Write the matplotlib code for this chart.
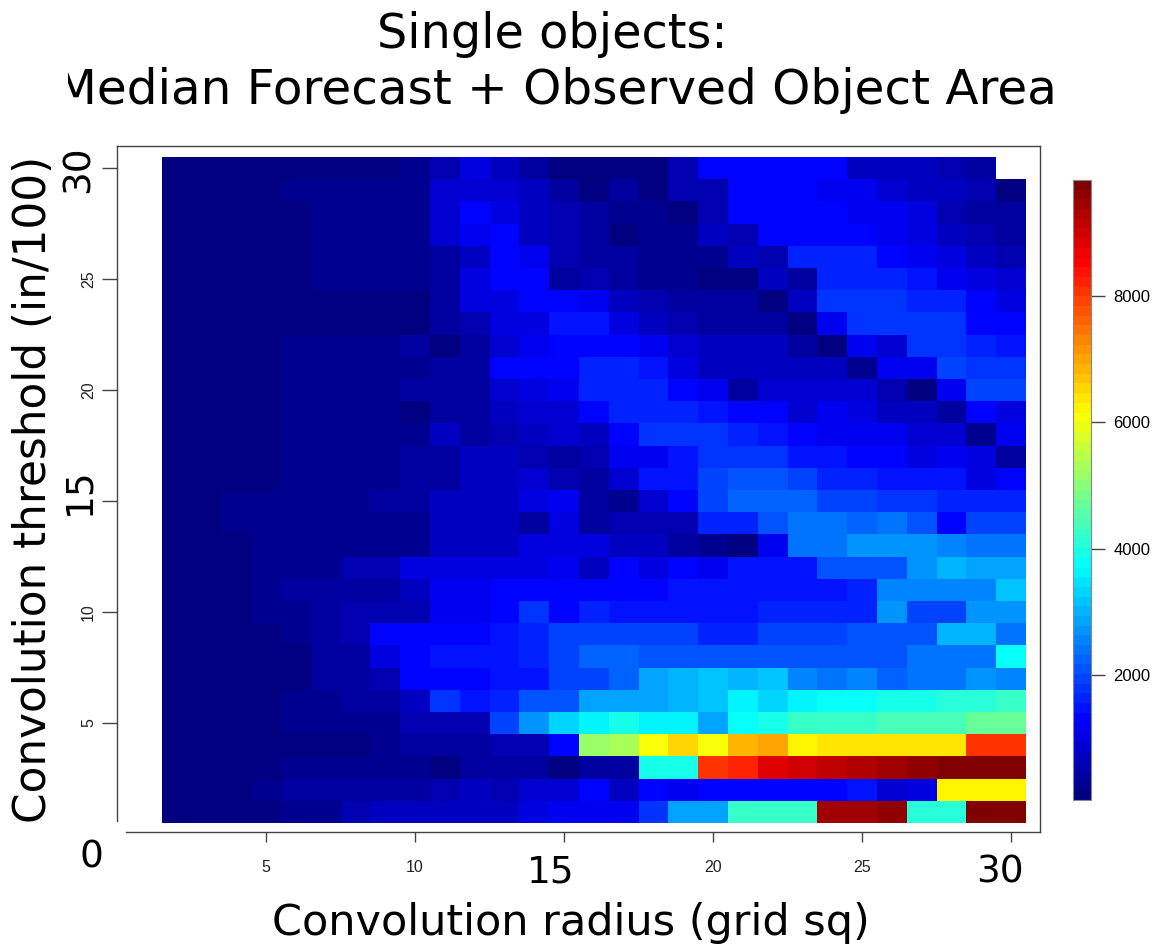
import numpy as np
import matplotlib
matplotlib.use("Agg")
import matplotlib.pyplot as plt
from matplotlib.colors import LinearSegmentedColormap
from matplotlib.transforms import Bbox

W, H = 1157, 946
radius = list(range(2, 31))
threshold = list(range(1, 31))
nan = float("nan")

# each row: threshold value -> area for radius 2..30
y30 = [40,40,40,40,170,170,170,170,320,560,1030,680,440,170, 170,170,170,500,1260,1260,1260,1260,1260,790,730,730,500,440,nan]
y29 = [40,40,40,40,210,210,210,210,320,850,850,850,730,380, 150,380,150,560,560,1400,1400,1400,1240,1240,850,790,730,500,170]
y28 = [40,40,40,40,40,190,190,190,320,850,1260,1080,790,560, 440,230,230,140,530,1400,1400,1400,1400,1240,1140,970,620,440,380]
y27 = [40,40,40,40,40,190,190,190,320,850,1190,1330,790,620, 440,120,230,230,790,620,1370,1370,1370,1370,1240,1080,790,500,380]
y26 = [40,40,40,40,40,190,190,190,270,380,790,1260,1140,620, 440,440,230,190,190,790,500,1700,1700,1700,1370,1140,1030,680,500]
y25 = [40,40,40,40,40,190,190,190,190,380,1030,1260,1260,380, 560,440,230,230,140,140,790,380,1700,1700,1700,1500,1240,1030,850]
y24 = [40,40,40,40,40,40,40,150,150,440,1030,1030,1290,1290, 1140,790,620,440,440,440,120,790,1750,1750,1750,1590,1590,1260,1030]
y23 = [40,40,40,150,150,150,150,150,150,380,560,970,970,1430, 1430,1080,790,620,420,420,420,120,1190,1750,1750,1750,1750,1400,1400]
y22 = [40,40,40,40,210,210,210,210,380,40,440,910,1240,1290, 1400,1400,1140,850,680,680,680,420,90,1190,910,1850,1850,1700,1560]
y21 = [40,40,40,40,190,190,190,190,320,440,440,1290,1290,1290, 1700,1700,1460,970,790,730,730,730,730,270,1190,1190,2000,1800,1800]
y20 = [40,40,40,40,190,190,190,190,380,440,440,850,970,1240, 1590,1590,1590,1400,1190,440,910,910,910,850,500,90,1140,2000,2000]
y19 = [40,40,40,40,190,190,190,190,170,380,380,680,850,850, 1260,1700,1700,1700,1560,1330,1260,850,1140,970,790,730,380,1290,1080]
y18 = [40,40,40,40,190,190,190,190,320,680,380,620,730,910, 680,1260,1850,1850,1850,1620,1500,1290,1190,1190,1190,850,850,190,1240]
y17 = [40,40,40,40,190,190,190,190,380,380,790,790,620,440, 620,1240,1240,1430,1850,1750,1750,1430,1430,1330,1330,1080,1190,970,440]
y16 = [40,40,40,40,190,190,190,190,380,380,790,790,910,560, 440,850,1460,1460,1900,2150,2150,1900,1700,1590,1460,1460,1460,1080,1290]
y15 = [40,40,190,190,190,190,190,380,380,730,730,730,970,1140, 440,190,850,1400,1950,2300,2300,2300,2000,1900,1750,1750,1590,1590,1590]
y14 = [40,40,190,190,190,190,190,320,320,730,730,730,440,1030, 380,560,560,560,1620,1620,2150,2350,2350,2250,2350,2150,1290,2000,2000]
y13 = [40,40,40,190,190,190,190,320,320,680,680,680,970,1080, 1080,680,680,440,190,90,1190,2450,2450,2750,2750,2750,2600,2400,2400]
y12 = [40,40,40,190,190,190,500,500,970,1030,1030,1030,1080,1240, 790,1260,970,1290,1190,1430,1430,1430,2100,2100,2100,2750,3050,2900,2900]
y11 = [40,40,40,190,440,440,440,440,730,1140,1140,1290,1290,1290, 1330,1330,1330,1460,1460,1460,1560,1560,1560,1590,2500,2500,2500,2500,3100]
y10 = [40,40,40,190,190,380,530,530,530,1190,1190,1290,1850,1370, 1620,1430,1560,1560,1560,1560,1700,1700,1700,1700,2750,2000,2000,2750,2750]
y9 = [40,40,40,40,190,440,620,1290,1290,1290,1290,1560,1700,2000, 1950,1950,1950,1950,1700,1700,1900,1900,1900,2100,2100,2150,3000,3000,2450]
y8 = [40,40,40,40,40,440,440,970,1290,1560,1560,1560,1620,1950, 2300,2300,2100,2100,2100,2100,2050,2050,2050,2050,2050,2350,2350,2350,3750]
y7 = [40,40,40,40,40,440,440,560,1290,1290,1290,1430,1430,2000, 1900,2250,2850,3000,3200,3050,3200,2600,2400,2500,2200,2350,2450,2750,2600]
y6 = [40,40,40,40,190,190,440,440,790,1850,1560,1700,2100,2100, 2850,2850,2850,3050,3200,3600,3350,3700,3850,3850,4000,4000,4150,4150,4300]
y5 = [40,40,40,40,190,190,190,270,620,620,620,1950,2700,3300, 3600,3900,3600,3600,2850,3850,4000,4250,4250,4250,4350,4350,4450,4650,4650]
y4 = [40,40,40,40,150,150,150,190,380,380,380,560,620,1260, 5100,5350,6100,6500,6100,6800,6950,6300,6450,6450,6450,6450,6450,8100,8000]
y3 = [40,40,40,40,190,190,190,190,320,120,380,380,380,150, 440,440,4000,4000,8000,8300,8900,9000,9100,9300,9400,9600,9800,9800,9800]
y2 = [40,40,40,270,440,440,440,440,380,620,790,620,910,910, 1260,730,1290,1140,1290,1290,1290,1290,1290,1560,850,1080,6300,6300,6300]
y1 = [40,40,40,40,190,190,500,680,680,680,680,680,970,1140, 1140,1140,1850,2900,2900,4200,4200,4200,9400,9400,9650,4050,4050,9800,9800]
rows = [y1,y2,y3,y4,y5,y6,y7,y8,y9,y10,y11,y12,y13,y14,y15,y16,y17,y18,y19,y20,
        y21,y22,y23,y24,y25,y26,y27,y28,y29,y30]
vmin, vmax = 30, 9835
xticks = [5, 10, 15, 20, 25, 30]
yticks = [5, 10, 15, 20, 25, 30]
small_x = ["5", "10", "", "20", "25", ""]
small_y = ["5", "10", "", "20", "25", ""]
cb_ticks = [2000, 4000, 6000, 8000]

def box(l, t, r, b):
    return [l/W, 1-b/H, (r-l)/W, (b-t)/H]

plt.rcParams['font.family'] = ['Liberation Sans', 'DejaVu Sans']
fig = plt.figure(figsize=(W/100, H/100), dpi=100, facecolor='white')
ax = fig.add_axes(box(117, 146, 1040, 832))

Z = np.ma.masked_invalid(np.array(rows, dtype=float))
cmap = LinearSegmentedColormap.from_list('tim', [
    (0.0, (0, 0, 0.5)), (0.125, (0, 0, 1)), (0.375, (0, 1, 1)),
    (0.625, (1, 1, 0)), (0.875, (1, 0, 0)), (1.0, (0.5, 0, 0))], N=64)
xe = np.arange(len(radius)+1) + radius[0] - 0.5
ye = np.arange(len(threshold)+1) + threshold[0] - 0.5
m = ax.pcolormesh(xe, ye, Z, cmap=cmap, vmin=vmin, vmax=vmax, linewidth=0, rasterized=True)
ax.set_xlim(0, 30.97)
ax.set_ylim(0.09, 31.0)

for s in ('left', 'bottom', 'top', 'right'):
    ax.spines[s].set_linewidth(1.0)
    ax.spines[s].set_color('#444444')
ax.spines['left'].set_bounds(0.6, 31.0)
ax.spines['bottom'].set_bounds(0.3, 30.97)
ax.set_xticks(xticks, small_x, fontsize=11.5, color='#222222')
ax.set_yticks(yticks, small_y, fontsize=11.5, color='#222222', rotation=90, va='center')
ax.tick_params(axis='x', length=7, width=1, color='#444444', pad=13)
ax.tick_params(axis='y', length=11, width=1, color='#444444', pad=4)

# colour bar
cax = fig.add_axes(box(1073, 180, 1091, 800))
cb = fig.colorbar(m, cax=cax, ticks=cb_ticks)
cb.ax.tick_params(length=10, width=1, color='#444444', labelsize=12, pad=6)
cb.outline.set_linewidth(0.8)
cb.outline.set_edgecolor('#888888')

def T(x, y, s, **k):
    return fig.text(x/W, 1-y/H, s, ha='center', va='center', family='DejaVu Sans', color='black', **k)

T(552, 34, 'Single objects:', fontsize=34.5)
t = T(556, 90, 'Median Forecast + Observed Object Area', fontsize=34.9)
t.set_clip_box(Bbox([[68, 0], [W, H]]))
t.set_clip_on(True)
T(571, 923, 'Convolution radius (grid sq)', fontsize=31)
T(34, 489, 'Convolution threshold (in/100)', fontsize=31.5, rotation=90)
T(91, 857, '0', fontsize=27)
T(551, 872, '15', fontsize=27)
T(1000, 872, '30', fontsize=27)
T(79, 169, '30', fontsize=27, rotation=90)
T(79, 491, '15', fontsize=27, rotation=90)

fig.savefig('out.png', dpi=100, facecolor='white')
